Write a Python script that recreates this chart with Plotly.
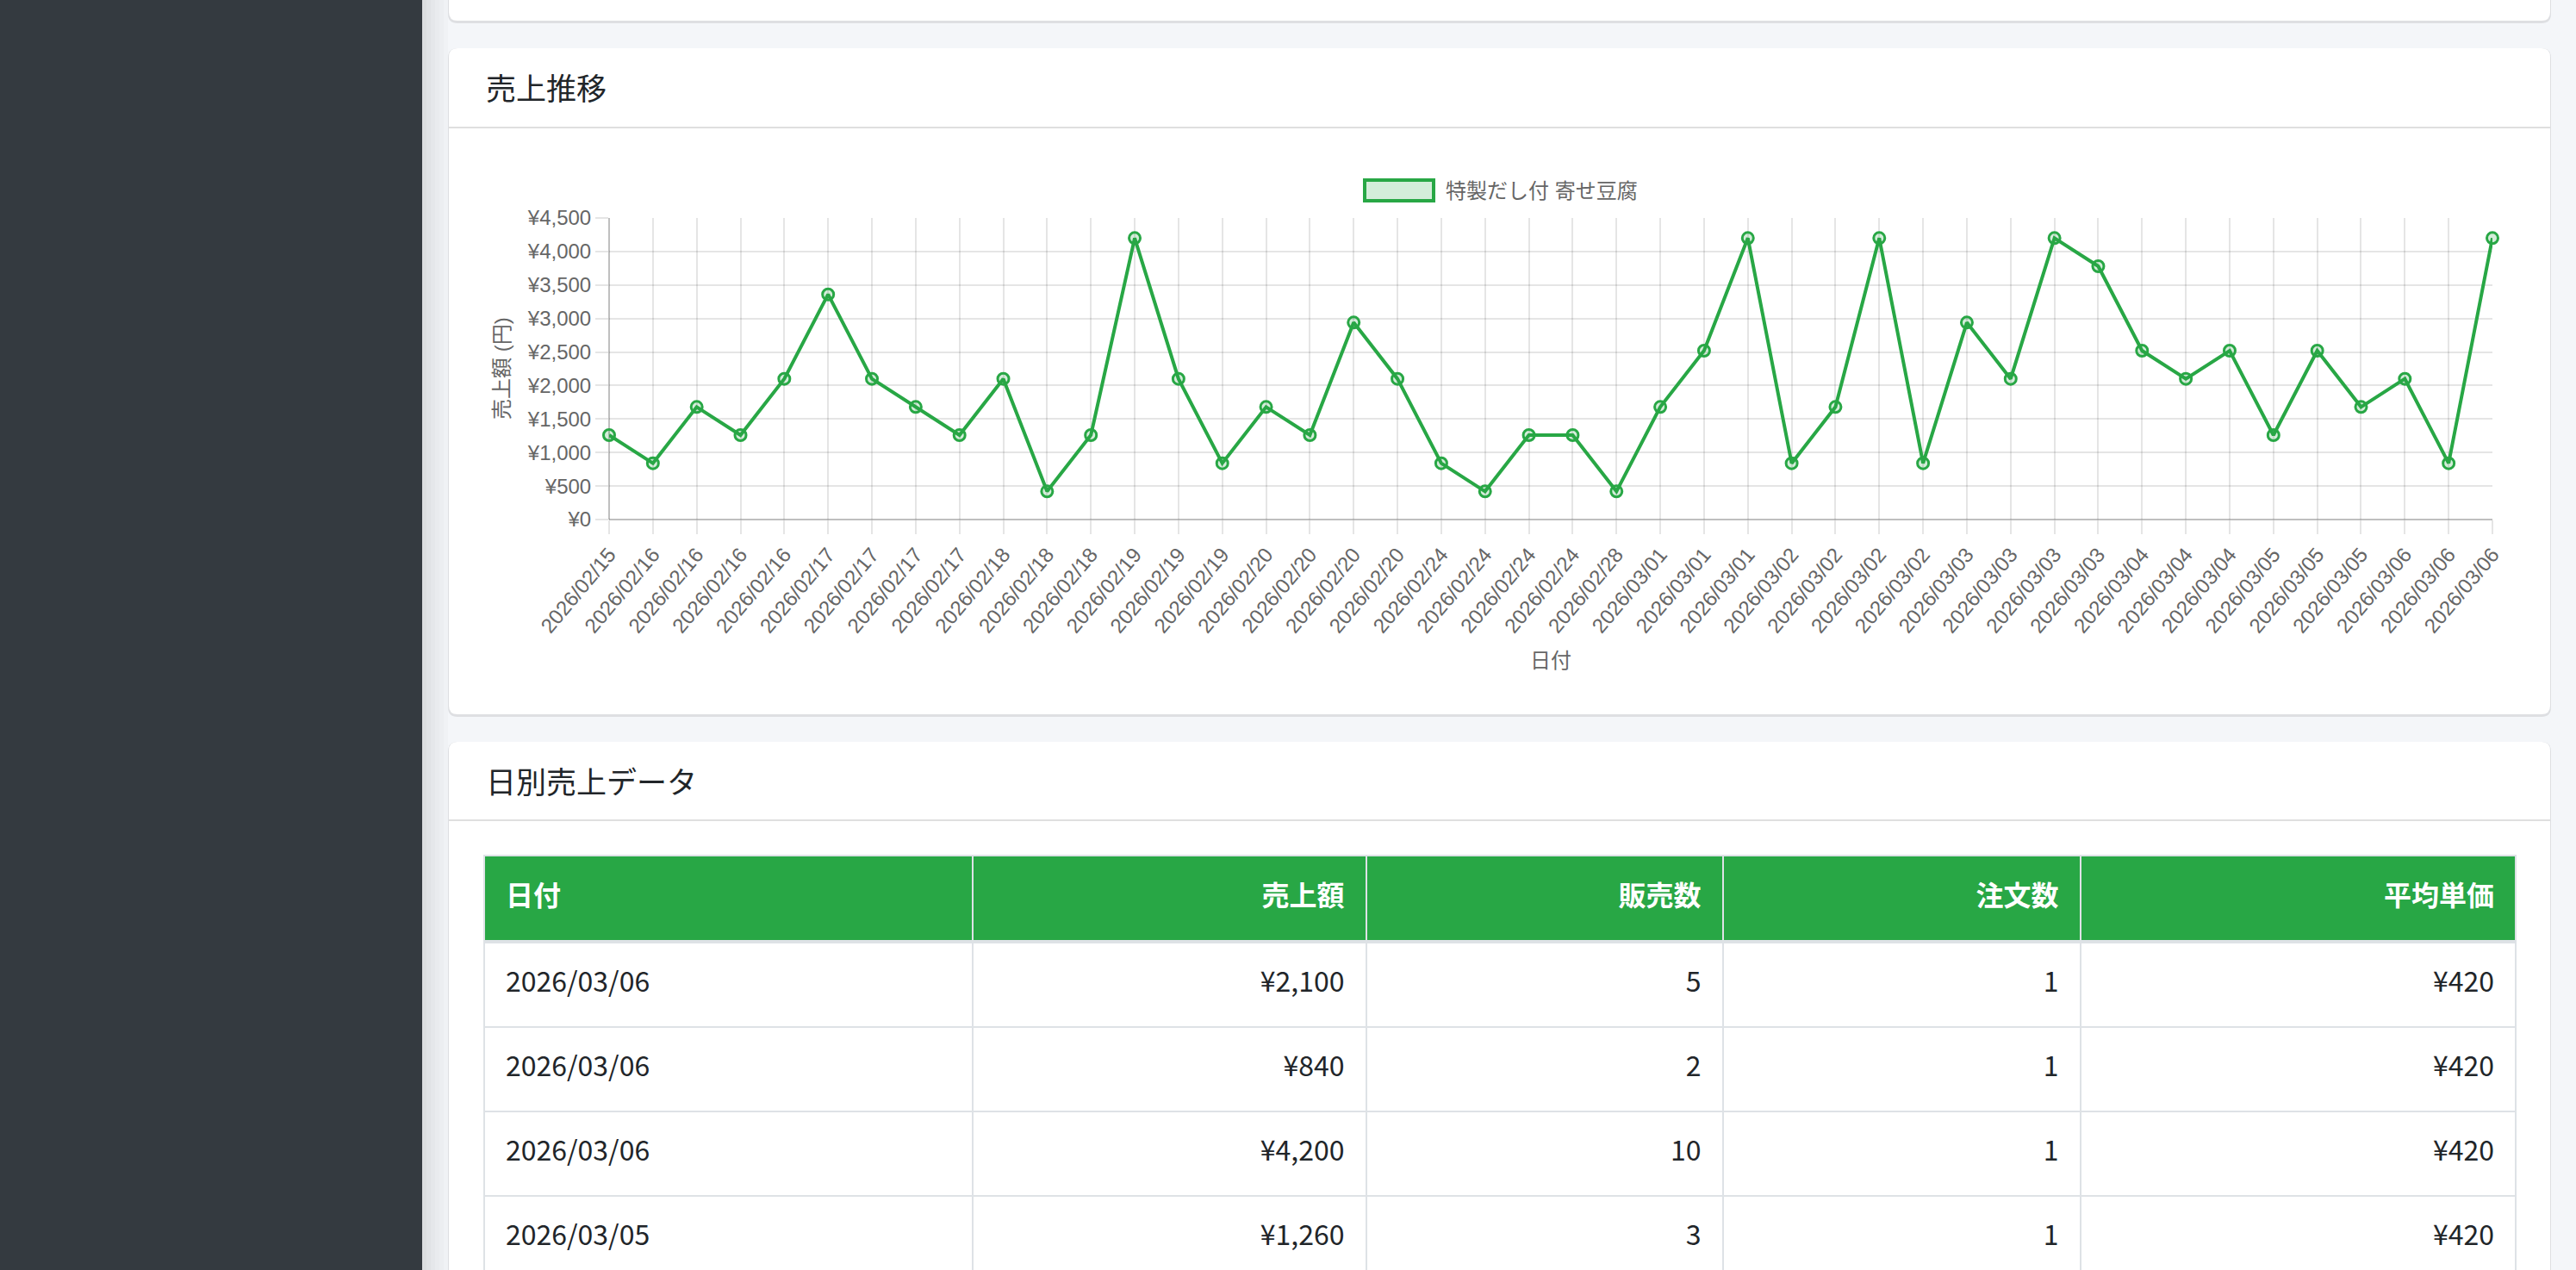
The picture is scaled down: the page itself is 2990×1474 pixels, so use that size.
import plotly.graph_objects as go

W, H = 2990, 1474

# chart data
dates = [
    "2026/02/15", "2026/02/16", "2026/02/16", "2026/02/16", "2026/02/16",
    "2026/02/17", "2026/02/17", "2026/02/17", "2026/02/17",
    "2026/02/18", "2026/02/18", "2026/02/18",
    "2026/02/19", "2026/02/19", "2026/02/19",
    "2026/02/20", "2026/02/20", "2026/02/20", "2026/02/20",
    "2026/02/24", "2026/02/24", "2026/02/24", "2026/02/24",
    "2026/02/28",
    "2026/03/01", "2026/03/01", "2026/03/01",
    "2026/03/02", "2026/03/02", "2026/03/02", "2026/03/02",
    "2026/03/03", "2026/03/03", "2026/03/03", "2026/03/03",
    "2026/03/04", "2026/03/04", "2026/03/04",
    "2026/03/05", "2026/03/05", "2026/03/05",
    "2026/03/06", "2026/03/06", "2026/03/06",
]
sales = [
    1260, 840, 1680, 1260, 2100,
    3360, 2100, 1680, 1260,
    2100, 420, 1260,
    4200, 2100, 840,
    1680, 1260, 2940, 2100,
    840, 420, 1260, 1260,
    420,
    1680, 2520, 4200,
    840, 1680, 4200, 840,
    2940, 2100, 4200, 3780,
    2520, 2100, 2520,
    1260, 2520, 1680,
    2100, 840, 4200,
]
series_name = "特製だし付 寄せ豆腐"

# table data (visible rows)
table_cols = ["日付", "売上額", "販売数", "注文数", "平均単価"]
table_dates = ["2026/03/06", "2026/03/06", "2026/03/06", "2026/03/05"]
table_sales = [2100, 840, 4200, 1260]
table_qty = [5, 2, 10, 3]
table_orders = [1, 1, 1, 1]
table_unit = [420, 420, 420, 420]

GREEN = "#28a745"
BORDER = "#dee2e6"
CHART_FONT = "Liberation Sans, Noto Sans CJK JP, sans-serif"
PAGE_FONT = "Noto Sans CJK JP, sans-serif"


def X(v):
    return v / W


def Y(v):
    return 1 - v / H


def rounded(x0, y0, x1, y1, r):
    return (f"M {X(x0 + r)},{Y(y0)} L {X(x1 - r)},{Y(y0)} Q {X(x1)},{Y(y0)} {X(x1)},{Y(y0 + r)} "
            f"L {X(x1)},{Y(y1 - r)} Q {X(x1)},{Y(y1)} {X(x1 - r)},{Y(y1)} "
            f"L {X(x0 + r)},{Y(y1)} Q {X(x0)},{Y(y1)} {X(x0)},{Y(y1 - r)} "
            f"L {X(x0)},{Y(y0 + r)} Q {X(x0)},{Y(y0)} {X(x0 + r)},{Y(y0)} Z")


shapes = []
# sidebar + its shadow
shapes.append(dict(type="rect", xref="paper", yref="paper", x0=0, x1=X(490), y0=0, y1=1,
                   fillcolor="#343a40", line_width=0, layer="below"))
for i, a in enumerate([0.10, 0.08, 0.06, 0.045, 0.03, 0.015]):
    shapes.append(dict(type="rect", xref="paper", yref="paper", x0=X(490 + i * 5), x1=X(495 + i * 5),
                       y0=0, y1=1, fillcolor=f"rgba(0,0,0,{a})", line_width=0, layer="below"))

# cards (shadow first, then white body)
cards = [(521, -40, 2960, 24), (521, 56, 2960, 829), (521, 861, 2960, 1520)]
for (cx0, cy0, cx1, cy1) in cards:
    shapes.append(dict(type="path", xref="paper", yref="paper", path=rounded(cx0 - 1, cy0, cx1 + 1, cy1 + 3, 11),
                       fillcolor="rgba(0,0,0,0.09)", line_width=0, layer="below"))
    shapes.append(dict(type="path", xref="paper", yref="paper", path=rounded(cx0, cy0, cx1, cy1, 10),
                       fillcolor="white", line_width=0, layer="below"))

# card header separators
for sy in (148, 952):
    shapes.append(dict(type="line", xref="paper", yref="paper", x0=X(521), x1=X(2960), y0=Y(sy), y1=Y(sy),
                       line=dict(color="#dfdfdf", width=2), layer="below"))

# legend box
shapes.append(dict(type="rect", xref="paper", yref="paper", x0=X(1584), x1=X(1664), y0=Y(233), y1=Y(209),
                   fillcolor="rgba(40,167,69,0.2)", line=dict(color=GREEN, width=4)))

annotations = [
    dict(text="売上推移", x=X(562), y=Y(101), xanchor="left", yanchor="middle",
         font=dict(family=PAGE_FONT, size=35, color="#212529")),
    dict(text="日別売上データ", x=X(562), y=Y(905), xanchor="left", yanchor="middle",
         font=dict(family=PAGE_FONT, size=35, color="#212529")),
    dict(text=series_name, x=X(1676), y=Y(221), xanchor="left", yanchor="middle",
         font=dict(family=CHART_FONT, size=24, color="#666")),
    dict(text="日付", x=X(1800), y=Y(766), xanchor="center", yanchor="middle",
         font=dict(family=CHART_FONT, size=24, color="#666")),
    dict(text="売上額 (円)", x=X(582), y=Y(428), xanchor="center", yanchor="middle", textangle=-90,
         font=dict(family=CHART_FONT, size=24, color="#666")),
]
for a in annotations:
    a.update(xref="paper", yref="paper", showarrow=False)

idx = list(range(len(dates)))

fig = go.Figure()
fig.add_trace(go.Scatter(
    x=idx, y=sales, name=series_name, mode="lines+markers",
    line=dict(color=GREEN, width=4),
    marker=dict(size=13, color="rgba(40,167,69,0.2)", line=dict(color=GREEN, width=3)),
    cliponaxis=False, showlegend=False,
))

# ---- table drawn on its own pixel-unit axes (x2/y2) ----
col_widths = [567, 456.5, 414, 415, 505.5]
aligns = ["left", "right", "right", "right", "right"]
head_h, sep_h, row_h = 99, 2, 98
pad = 25

col_edges = [0]
for w in col_widths:
    col_edges.append(col_edges[-1] + w)
n_rows = len(table_dates)
row_edges = [0, head_h, head_h + sep_h]
for _ in range(n_rows):
    row_edges.append(row_edges[-1] + row_h)

body_text = [
    table_dates,
    [f"¥{v:,}" for v in table_sales],
    [f"{v}" for v in table_qty],
    [f"{v}" for v in table_orders],
    [f"¥{v:,}" for v in table_unit],
]

# border colour underneath, cells on top with gaps showing the borders
fig.add_trace(go.Heatmap(
    x=[col_edges[0] - 1, col_edges[-1] + 1], y=[row_edges[0] - 1, row_edges[-1]], z=[[0]],
    colorscale=[[0, BORDER], [1, BORDER]], showscale=False, hoverinfo="skip",
    xaxis="x2", yaxis="y2",
))
z = [[2] * len(table_cols), [1] * len(table_cols)] + [[0] * len(table_cols) for _ in range(n_rows)]
fig.add_trace(go.Heatmap(
    x=col_edges, y=row_edges, z=z, zmin=0, zmax=2,
    colorscale=[[0, "white"], [0.5, BORDER], [1, GREEN]], showscale=False,
    xgap=2, ygap=2, hoverinfo="skip", xaxis="x2", yaxis="y2",
))


def text_x(c):
    return col_edges[c] + pad if aligns[c] == "left" else col_edges[c + 1] - pad


def text_pos(c):
    return "middle right" if aligns[c] == "left" else "middle left"


fig.add_trace(go.Scatter(
    x=[text_x(c) for c in range(len(table_cols))],
    y=[head_h / 2] * len(table_cols),
    text=table_cols, mode="text",
    textposition=[text_pos(c) for c in range(len(table_cols))],
    textfont=dict(family=PAGE_FONT, size=32, color="white", weight="bold"),
    hoverinfo="skip", showlegend=False, xaxis="x2", yaxis="y2",
))
bx, by, bt, bp = [], [], [], []
for c, col in enumerate(body_text):
    for r, s in enumerate(col):
        bx.append(text_x(c))
        by.append((row_edges[r + 2] + row_edges[r + 3]) / 2)
        bt.append(s)
        bp.append(text_pos(c))
fig.add_trace(go.Scatter(
    x=bx, y=by, text=bt, mode="text", textposition=bp,
    textfont=dict(family=PAGE_FONT, size=32, color="#212529"),
    hoverinfo="skip", showlegend=False, xaxis="x2", yaxis="y2",
))

fig.update_layout(
    width=W, height=H,
    margin=dict(l=0, r=0, t=0, b=0, autoexpand=False),
    paper_bgcolor="#f4f6f9",
    plot_bgcolor="rgba(0,0,0,0)",
    shapes=shapes,
    annotations=annotations,
    showlegend=False,
    xaxis=dict(
        domain=[X(707), X(2893)], range=[0, len(dates) - 1], automargin=False,
        tickmode="array", tickvals=idx, ticktext=dates, tickangle=-50,
        showgrid=True, gridcolor="rgba(0,0,0,0.1)", gridwidth=2,
        zeroline=True, zerolinecolor="rgba(0,0,0,0.25)", zerolinewidth=2,
        ticks="outside", ticklen=16, tickwidth=2, tickcolor="rgba(0,0,0,0.1)",
        tickfont=dict(family=CHART_FONT, size=24, color="#666"),
        showline=False, fixedrange=True,
    ),
    yaxis=dict(
        domain=[Y(603), Y(253)], range=[0, 4500], dtick=500, automargin=False,
        tickprefix="¥", tickformat=",d",
        showgrid=True, gridcolor="rgba(0,0,0,0.1)", gridwidth=2,
        zeroline=True, zerolinecolor="rgba(0,0,0,0.25)", zerolinewidth=2,
        ticks="outside", ticklen=15, tickwidth=2, tickcolor="rgba(0,0,0,0.1)",
        tickfont=dict(family=CHART_FONT, size=24, color="#666"),
        showline=False, fixedrange=True,
    ),
    xaxis2=dict(
        domain=[X(561), X(2921)], range=[-1, col_edges[-1] + 1], anchor="y2",
        visible=False, fixedrange=True, automargin=False,
    ),
    yaxis2=dict(
        domain=[0, Y(992)], range=[H - 993, -1], anchor="x2",
        visible=False, fixedrange=True, automargin=False,
    ),
)

fig.write_html("out.html", config={"displayModeBar": False},
               post_script="document.body.style.margin='0';")
